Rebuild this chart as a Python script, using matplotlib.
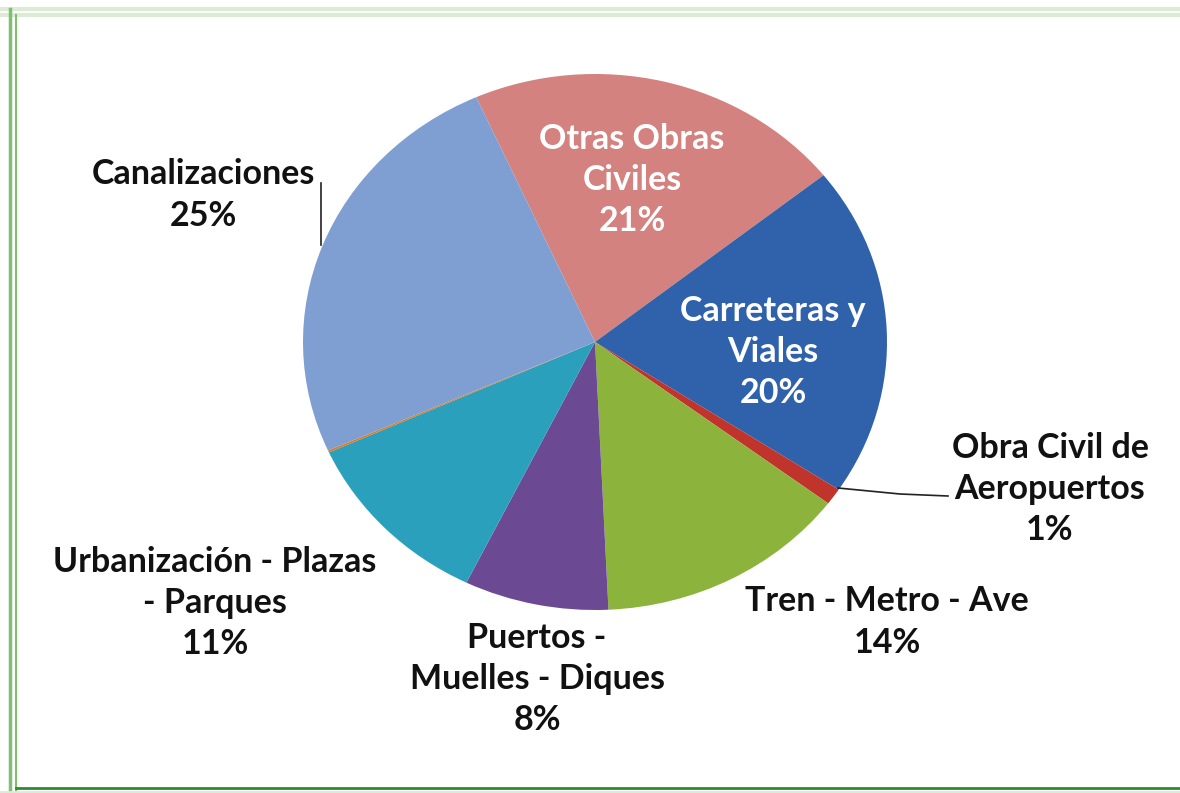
import matplotlib
matplotlib.use("Agg")
import matplotlib.pyplot as plt
from matplotlib.lines import Line2D

W, H = 1180, 793

categories = ["Otras Obras\nCiviles", "Carreteras y\nViales", "Obra Civil de\nAeropuertos",
              "Tren - Metro - Ave", "Puertos -\nMuelles - Diques",
              "Urbanización - Plazas\n- Parques", "", "Canalizaciones"]
values = [21, 20, 1, 14, 8, 11, 0.12, 25]
pct_labels = ["21%", "20%", "1%", "14%", "8%", "11%", "", "25%"]
colors = ["#d3827f", "#2f62ab", "#c0342c", "#8cb33c", "#6b4a93", "#2aa0bd", "#e07a1c", "#7f9fd2"]

# label placement (pixel centres of text blocks) and text colour
label_pos = [(632, 180), (773, 352), (1050, 489), (887, 622), (537, 679), (215, 603), None, (203, 195)]
label_col = ["white", "white", "#111111", "#111111", "#111111", "#111111", None, "#111111"]

fig = plt.figure(figsize=(W / 100, H / 100), dpi=100)
fig.patch.set_facecolor("white")

def px(x, y):
    return x / W, 1 - y / H

# decorative frame
def fline(xs, ys, color, lw):
    fig.add_artist(Line2D([x / W for x in xs], [1 - y / H for y in ys],
                          color=color, lw=lw, transform=fig.transFigure))

fline([0, W], [9, 9], "#dcebd3", 3)
fline([0, W], [15, 15], "#dcebd3", 3)
fline([10, 10], [9, H], "#7fbf6f", 2.5)
fline([16, 16], [15, H], "#7fbf6f", 1.5)
fline([16, W], [788, 788], "#2f8a2f", 2)
fline([0, W], [792, 792], "#dcebd3", 2)

cx, cy, rx, ry = 595, 342, 292, 268
ax = fig.add_axes([(cx - rx) / W, (H - cy - ry) / H, 2 * rx / W, 2 * ry / H])
ax.pie(values, colors=colors, startangle=114, counterclock=False, radius=1,
       wedgeprops=dict(linewidth=0))
ax.set_aspect("auto")
ax.set_xlim(-1, 1)
ax.set_ylim(-1, 1)
ax.axis("off")

for cat, pct, pos, col in zip(categories, pct_labels, label_pos, label_col):
    if pos is None:
        continue
    fig.text(*px(*pos), f"{cat}\n{pct}", ha="center", va="center", color=col,
             fontsize=24.5, fontweight="bold", family="Lato", linespacing=1.36)

# leader lines
fline([321, 321], [183, 245], "#222222", 1.2)
fline([838, 900, 948], [488, 494, 496], "#222222", 1.2)

fig.savefig("out.png", dpi=100)
